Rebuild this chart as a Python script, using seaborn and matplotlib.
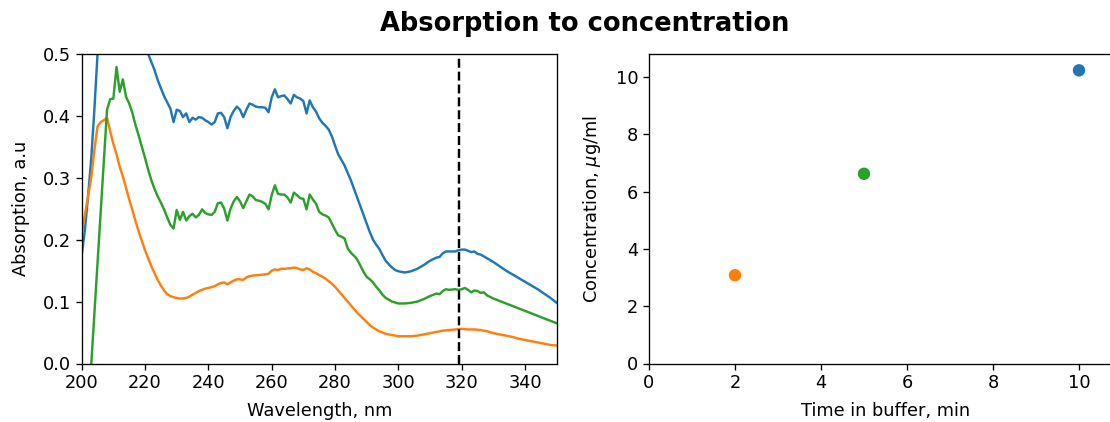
import numpy as np
import pandas as pd
import matplotlib
matplotlib.use("Agg")
import matplotlib.pyplot as plt
import seaborn as sns

# Absorption spectra of the three samples (wavelength in nm, absorption in a.u.)
wl_10min = [200, 201, 202, 203, 204, 205, 206, 208, 210, 212, 214, 216, 218, 220, 221,
            223, 224, 225, 226, 227, 228, 229, 230, 231, 232, 233, 234, 235, 236, 237,
            238, 239, 240, 241, 242, 243, 244, 245, 246, 247, 248, 249, 250, 251, 252,
            253, 254, 255, 256, 257, 258, 259, 260, 261, 262, 263, 264, 265, 266, 267,
            268, 269, 270, 271, 272, 273, 274, 275, 276, 277, 278, 279, 280, 281, 282,
            283, 284, 285, 286, 287, 288, 289, 290, 291, 292, 293, 294, 295, 296, 297,
            298, 299, 300, 302, 304, 306, 308, 310, 312, 313, 314, 315, 316, 318, 319,
            320, 321, 322, 323, 324, 325, 326, 328, 330, 332, 334, 336, 338, 340, 342,
            344, 346, 348, 350]
abs_10min = [0.175, 0.215, 0.27, 0.33, 0.41, 0.50, 0.58, 0.68, 0.74, 0.73, 0.68, 0.62, 0.56, 0.52, 0.50,
             0.474, 0.458, 0.445, 0.432, 0.422, 0.412, 0.39, 0.41, 0.408, 0.398, 0.404, 0.39, 0.397, 0.394, 0.398,
             0.397, 0.393, 0.39, 0.386, 0.39, 0.404, 0.405, 0.398, 0.38, 0.398, 0.408, 0.415, 0.41, 0.398, 0.41,
             0.42, 0.418, 0.415, 0.414, 0.414, 0.413, 0.406, 0.43, 0.443, 0.43, 0.432, 0.433, 0.427, 0.42, 0.434,
             0.43, 0.428, 0.424, 0.404, 0.425, 0.414, 0.407, 0.396, 0.389, 0.384, 0.378, 0.367, 0.352, 0.338, 0.329,
             0.32, 0.308, 0.296, 0.282, 0.268, 0.254, 0.240, 0.226, 0.212, 0.20, 0.192, 0.185, 0.175, 0.166, 0.16,
             0.155, 0.151, 0.149, 0.147, 0.149, 0.153, 0.159, 0.166, 0.171, 0.172, 0.178, 0.181, 0.181, 0.181, 0.183,
             0.184, 0.184, 0.182, 0.180, 0.181, 0.177, 0.176, 0.170, 0.164, 0.157, 0.150, 0.144, 0.138, 0.132, 0.126,
             0.12, 0.113, 0.106, 0.098]

wl_2min = [200, 201, 202, 203, 204, 205, 206, 207, 208, 209, 210, 211, 212, 213, 214,
           215, 216, 217, 218, 219, 220, 221, 222, 223, 224, 225, 226, 227, 228, 229,
           230, 231, 232, 233, 234, 235, 236, 237, 238, 239, 240, 242, 243, 244, 245,
           246, 247, 248, 249, 250, 251, 252, 253, 254, 256, 258, 259, 260, 261, 262,
           263, 264, 266, 267, 268, 269, 270, 271, 272, 273, 274, 275, 276, 277, 278,
           279, 280, 281, 282, 283, 284, 285, 286, 287, 288, 289, 290, 291, 292, 293,
           294, 295, 296, 298, 300, 302, 304, 306, 308, 310, 312, 314, 316, 318, 320,
           322, 324, 326, 328, 330, 332, 334, 336, 338, 340, 342, 344, 346, 348, 350]
abs_2min = [0.21, 0.24, 0.27, 0.30, 0.345, 0.383, 0.39, 0.393, 0.397, 0.375, 0.355, 0.338, 0.318, 0.302, 0.284,
            0.265, 0.248, 0.23, 0.213, 0.198, 0.183, 0.17, 0.157, 0.146, 0.135, 0.126, 0.118, 0.112, 0.109, 0.107,
            0.106, 0.105, 0.105, 0.106, 0.108, 0.111, 0.114, 0.117, 0.119, 0.121, 0.122, 0.125, 0.128, 0.13, 0.131,
            0.128, 0.131, 0.134, 0.136, 0.136, 0.135, 0.139, 0.141, 0.142, 0.143, 0.144, 0.145, 0.15, 0.152, 0.151,
            0.153, 0.153, 0.154, 0.155, 0.154, 0.152, 0.151, 0.154, 0.152, 0.148, 0.146, 0.143, 0.14, 0.137, 0.133,
            0.129, 0.124, 0.118, 0.112, 0.106, 0.10, 0.094, 0.088, 0.082, 0.077, 0.072, 0.067, 0.062, 0.058, 0.055,
            0.052, 0.05, 0.048, 0.046, 0.044, 0.044, 0.044, 0.045, 0.047, 0.049, 0.051, 0.053, 0.054, 0.055, 0.056,
            0.055, 0.055, 0.054, 0.052, 0.049, 0.047, 0.045, 0.043, 0.040, 0.038, 0.036, 0.034, 0.032, 0.03, 0.029]

wl_5min = [200, 202, 203, 205, 207, 208, 209, 210, 211, 212, 213, 214, 215, 216, 217,
           218, 219, 220, 221, 222, 223, 224, 225, 226, 227, 228, 229, 230, 231, 232,
           233, 234, 235, 236, 237, 238, 239, 240, 241, 242, 243, 244, 245, 246, 247,
           248, 249, 250, 251, 252, 253, 254, 255, 256, 257, 258, 259, 260, 261, 262,
           263, 264, 265, 266, 267, 268, 269, 270, 271, 272, 273, 274, 275, 276, 277,
           278, 279, 280, 281, 282, 283, 284, 285, 286, 287, 288, 289, 290, 291, 292,
           293, 294, 295, 296, 297, 298, 300, 302, 304, 306, 308, 310, 312, 313, 314,
           315, 316, 318, 319, 320, 321, 322, 323, 324, 325, 326, 327, 328, 330, 332,
           334, 336, 338, 340, 342, 344, 346, 348, 350]
abs_5min = [-0.25, -0.085, 0.0, 0.165, 0.33, 0.41, 0.427, 0.428, 0.479, 0.439, 0.459, 0.431, 0.42, 0.405, 0.385,
            0.368, 0.35, 0.332, 0.313, 0.296, 0.282, 0.27, 0.26, 0.249, 0.236, 0.224, 0.218, 0.248, 0.232, 0.245,
            0.231, 0.238, 0.242, 0.236, 0.24, 0.249, 0.243, 0.241, 0.24, 0.245, 0.259, 0.26, 0.25, 0.231, 0.25,
            0.262, 0.269, 0.262, 0.251, 0.262, 0.273, 0.27, 0.264, 0.263, 0.261, 0.258, 0.249, 0.272, 0.288, 0.274,
            0.273, 0.273, 0.268, 0.26, 0.276, 0.272, 0.267, 0.266, 0.249, 0.273, 0.265, 0.258, 0.245, 0.241, 0.239,
            0.236, 0.226, 0.216, 0.207, 0.205, 0.202, 0.186, 0.179, 0.174, 0.168, 0.158, 0.148, 0.14, 0.136, 0.131,
            0.124, 0.118, 0.111, 0.106, 0.103, 0.10, 0.097, 0.097, 0.098, 0.10, 0.104, 0.109, 0.113, 0.112, 0.117,
            0.12, 0.119, 0.12, 0.119, 0.12, 0.122, 0.119, 0.115, 0.118, 0.117, 0.114, 0.115, 0.11, 0.105, 0.101,
            0.097, 0.093, 0.089, 0.085, 0.081, 0.077, 0.073, 0.069, 0.065]

# Concentration derived at the reference wavelength
samples = ["10 min", "2 min", "5 min"]
time_min = [10, 2, 5]
conc_ug_ml = [10.23, 3.08, 6.62]
ref_wavelength = 319

colors = {"10 min": "#1f77b4", "2 min": "#ff7f0e", "5 min": "#2ca02c"}

spectra = pd.concat([
    pd.DataFrame({"wavelength": wl_10min, "absorption": abs_10min, "sample": "10 min"}),
    pd.DataFrame({"wavelength": wl_2min, "absorption": abs_2min, "sample": "2 min"}),
    pd.DataFrame({"wavelength": wl_5min, "absorption": abs_5min, "sample": "5 min"}),
], ignore_index=True)
points = pd.DataFrame({"time": time_min, "conc": conc_ug_ml, "sample": samples})

plt.rcParams.update({
    "font.size": 12.8,
    "axes.linewidth": 0.95,
    "xtick.major.width": 0.95,
    "ytick.major.width": 0.95,
    "xtick.major.size": 4.2,
    "ytick.major.size": 4.2,
})

W, H = 1110, 422
fig = plt.figure(figsize=(W / 100, H / 100), dpi=100)
ax1 = fig.add_axes([81.7 / W, (H - 363.5) / H, 475 / W, 309.5 / H])
ax2 = fig.add_axes([649 / W, (H - 363.5) / H, 473 / W, 309.5 / H])

sns.lineplot(data=spectra, x="wavelength", y="absorption", hue="sample",
             palette=colors, estimator=None, legend=False, linewidth=1.75, ax=ax1)
ax1.axvline(ref_wavelength, color="black", linestyle="--", linewidth=1.75)
ax1.set_xlim(200, 350)
ax1.set_ylim(0, 0.5)
ax1.set_xticks(np.arange(200, 341, 20))
ax1.set_yticks(np.arange(0, 0.51, 0.1))
ax1.set_xlabel("Wavelength, nm", labelpad=7)
ax1.set_ylabel("Absorption, a.u", labelpad=9)

sns.scatterplot(data=points, x="time", y="conc", hue="sample", palette=colors,
                s=80, linewidth=0, legend=False, ax=ax2)
ax2.set_xlim(0, 11)
ax2.set_ylim(0, 10.8)
ax2.set_xticks(np.arange(0, 11, 2))
ax2.set_yticks(np.arange(0, 11, 2))
ax2.set_xlabel("Time in buffer, min", labelpad=7)
ax2.set_ylabel(r"Concentration, $\mu$g/ml", labelpad=9)

fig.suptitle("Absorption to concentration", fontsize=18.5, fontweight="bold",
             x=585 / W, y=1 - 24 / H, va="center")

fig.savefig("out.png", dpi=100)
